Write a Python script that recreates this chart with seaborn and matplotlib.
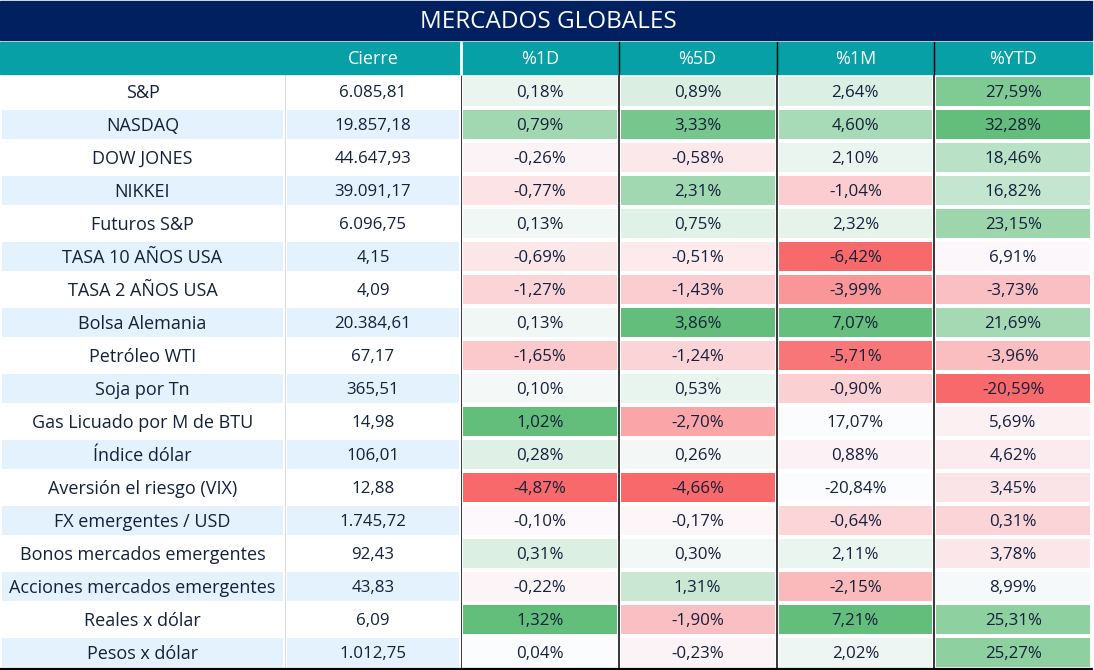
import numpy as np
import pandas as pd
import matplotlib
matplotlib.use("Agg")
import matplotlib.pyplot as plt
import seaborn as sns
from matplotlib.colors import LinearSegmentedColormap, ListedColormap
from matplotlib.patches import Rectangle
from matplotlib.lines import Line2D

# ---------------- data ----------------
title = "MERCADOS GLOBALES"
col_headers = ["Cierre", "%1D", "%5D", "%1M", "%YTD"]
labels = ["S&P", "NASDAQ", "DOW JONES", "NIKKEI", "Futuros S&P", "TASA 10 AÑOS USA",
          "TASA 2 AÑOS USA", "Bolsa Alemania", "Petróleo WTI", "Soja por Tn",
          "Gas Licuado por M de BTU", "Índice dólar", "Aversión el riesgo (VIX)",
          "FX emergentes / USD", "Bonos mercados emergentes",
          "Acciones mercados emergentes", "Reales x dólar", "Pesos x dólar"]
cierre = [6085.81, 19857.18, 44647.93, 39091.17, 6096.75, 4.15, 4.09, 20384.61, 67.17,
          365.51, 14.98, 106.01, 12.88, 1745.72, 92.43, 43.83, 6.09, 1012.75]
pct_1d = [0.18, 0.79, -0.26, -0.77, 0.13, -0.69, -1.27, 0.13, -1.65, 0.10, 1.02, 0.28,
          -4.87, -0.10, 0.31, -0.22, 1.32, 0.04]
pct_5d = [0.89, 3.33, -0.58, 2.31, 0.75, -0.51, -1.43, 3.86, -1.24, 0.53, -2.70, 0.26,
          -4.66, -0.17, 0.30, 1.31, -1.90, -0.23]
pct_1m = [2.64, 4.60, 2.10, -1.04, 2.32, -6.42, -3.99, 7.07, -5.71, -0.90, 17.07, 0.88,
          -20.84, -0.64, 2.11, -2.15, 7.21, 2.02]
pct_ytd = [27.59, 32.28, 18.46, 16.82, 23.15, 6.91, -3.73, 21.69, -3.96, -20.59, 5.69,
           4.62, 3.45, 0.31, 3.78, 8.99, 25.31, 25.27]
# cells left without colour-scale formatting in the original (1M column)
unformatted_1m = ["Gas Licuado por M de BTU", "Aversión el riesgo (VIX)"]
# cell carrying its own (single-cell) colour-scale rule in the original (1D column)
own_rule_1d = ["Gas Licuado por M de BTU"]

# ---------------- helpers ----------------
def es_num(v, suffix=""):
    s = f"{v:,.2f}"
    s = s.replace(",", "X").replace(".", ",").replace("X", ".")
    return s + suffix

def excel_scale(vals, fmt_mask):
    """3-colour scale like Excel: min -> -1, 50th percentile -> 0, max -> +1."""
    v = np.asarray(vals, float)
    sel = v[fmt_mask]
    lo, mid, hi = sel.min(), np.median(sel), sel.max()
    out = np.where(v >= mid, (v - mid) / (hi - mid), (v - mid) / (mid - lo))
    return np.where(fmt_mask, out, 0.0)

n = len(labels)
pct_df = pd.DataFrame({"%1D": pct_1d, "%5D": pct_5d, "%1M": pct_1m, "%YTD": pct_ytd},
                      index=labels)
masks = {c: np.ones(n, bool) for c in pct_df.columns}
masks["%1M"] = ~pct_df.index.isin(unformatted_1m)
masks["%1D"] = ~pct_df.index.isin(own_rule_1d)
scaled = pd.DataFrame({c: excel_scale(pct_df[c], masks[c]) for c in pct_df.columns},
                      index=labels)
# a single-cell rule puts that cell at the top colour of the scale
scaled.loc[own_rule_1d, "%1D"] = 1.0
annot_pct = pct_df.map(lambda v: es_num(v, "%")).values

# ---------------- style ----------------
sns.set_theme(style="white")
plt.rcParams['font.family'] = ['Open Sans', 'DejaVu Sans']

NAVY = "#002060"
TEAL = "#06A0A6"
BAND = "#E3F2FD"
TXT = "#15203B"
FS_LAB = 13
FS_NUM = 12.2
FS_HEAD = 13

W, H = 1094, 670
fig = plt.figure(figsize=(W / 100, H / 100), dpi=100)
fig.patch.set_facecolor("white")

def box(x0, y0, x1, y1):
    return [x0 / W, 1 - y1 / H, (x1 - x0) / W, (y1 - y0) / H]

def fx(x):
    return x / W

def fy(y):
    return 1 - y / H

# column edges (pixels)
X_LAB0, X_LAB1, X_CIE1, X_END = 0, 285, 461, 1092
Y_T0, Y_T1 = 1, 40
Y_H0, Y_H1 = 42, 74
Y_B0, Y_B1 = 74.5, 668.5
pct_edges = np.linspace(X_CIE1, X_END, 5)

# title bar
fig.patches.append(Rectangle((fx(0), fy(Y_T1)), fx(X_END), fy(Y_T0) - fy(Y_T1),
                             transform=fig.transFigure, color=NAVY, zorder=0))
fig.text(fx(548), fy((Y_T0 + Y_T1) / 2 + 1), title, color="white", fontsize=17.5,
         ha="center", va="center")

# header bar
fig.patches.append(Rectangle((fx(0), fy(Y_H1)), fx(X_END), fy(Y_H0) - fy(Y_H1),
                             transform=fig.transFigure, color=TEAL, zorder=0))
header_x = [(X_LAB1 + X_CIE1) / 2 + 0.5] + list((pct_edges[:-1] + pct_edges[1:]) / 2)
for hx, h in zip(header_x, col_headers):
    fig.text(fx(hx), fy((Y_H0 + Y_H1) / 2 + 1), h, color="white", fontsize=FS_HEAD,
             ha="center", va="center")
fig.lines.append(Line2D([fx(X_CIE1)] * 2, [fy(Y_H0), fy(Y_H1)], color="white", lw=2,
                        transform=fig.transFigure))
for xe in pct_edges[1:-1]:
    fig.lines.append(Line2D([fx(xe)] * 2, [fy(Y_H0), fy(Y_H1)], color="black", lw=1,
                            transform=fig.transFigure))

# body: label and Cierre columns (banded)
band = (np.arange(n) % 2).reshape(-1, 1)
band_cmap = ListedColormap(["white", BAND])
ax_lab = fig.add_axes(box(X_LAB0, Y_B0, X_LAB1, Y_B1))
sns.heatmap(band, ax=ax_lab, cmap=band_cmap, vmin=0, vmax=1, cbar=False,
            annot=np.array(labels).reshape(-1, 1), fmt="",
            annot_kws={"fontsize": FS_LAB, "color": TXT},
            linewidths=1.5, linecolor="white", xticklabels=False, yticklabels=False)
ax_cie = fig.add_axes(box(X_LAB1, Y_B0, X_CIE1, Y_B1))
sns.heatmap(band, ax=ax_cie, cmap=band_cmap, vmin=0, vmax=1, cbar=False,
            annot=np.array([es_num(v) for v in cierre]).reshape(-1, 1), fmt="",
            annot_kws={"fontsize": FS_NUM, "color": TXT},
            linewidths=1.5, linecolor="white", xticklabels=False, yticklabels=False)
ax_cie.axvline(0, color="#D4D4D4", lw=1.2, zorder=5)

# body: percentage columns with Excel-like colour scale
scale_cmap = LinearSegmentedColormap.from_list("rwg", ["#F8696B", "#FCFCFF", "#63BE7B"])
ax_pct = fig.add_axes(box(X_CIE1, Y_B0, X_END, Y_B1))
sns.heatmap(scaled, ax=ax_pct, cmap=scale_cmap, vmin=-1, vmax=1, cbar=False,
            annot=annot_pct, fmt="", annot_kws={"fontsize": FS_NUM, "color": TXT},
            linewidths=1.5, linecolor="white", xticklabels=False, yticklabels=False)
for xc in range(4):
    ax_pct.axvline(xc, color="black", lw=1.1, zorder=5)

for a in (ax_lab, ax_cie, ax_pct):
    a.set_xlabel("")
    a.set_ylabel("")
    for t in a.texts:  # nudge labels slightly down to sit centred like the original
        px, py = t.get_position()
        t.set_position((px, py + 0.05))

# bottom border
fig.lines.append(Line2D([fx(0), fx(X_END)], [fy(668.5)] * 2, color="black", lw=1.6,
                        transform=fig.transFigure))

fig.savefig("out.png", dpi=100, facecolor="white")
